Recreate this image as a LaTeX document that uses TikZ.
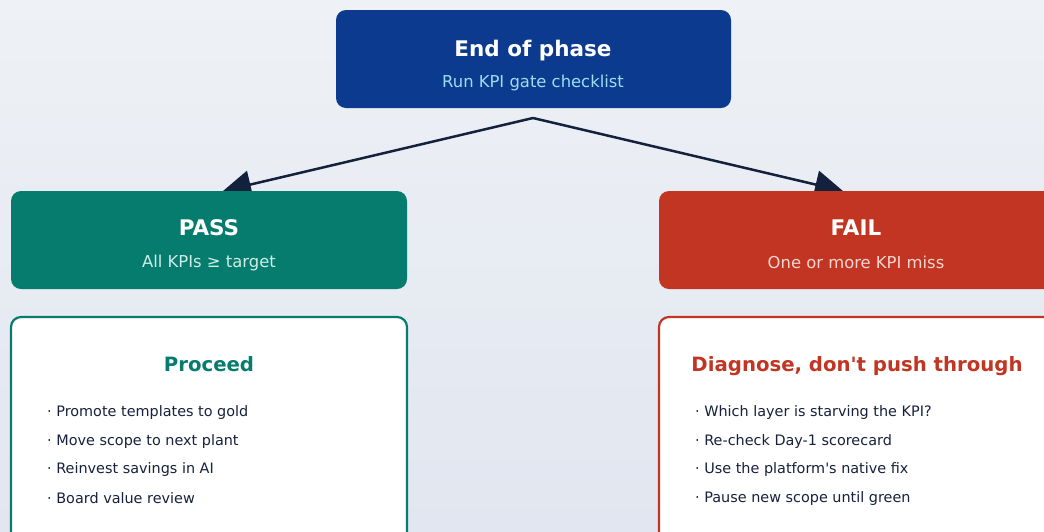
\documentclass[tikz,border=0pt]{standalone}
\usepackage{fontspec}
\newfontfamily\djv{DejaVu Sans}
\usetikzlibrary{arrows.meta}
\definecolor{bgtop}{HTML}{EEF1F5}
\definecolor{bgbot}{HTML}{E1E6F0}
\definecolor{navy}{HTML}{0B3A8F}
\definecolor{tealc}{HTML}{067C6E}
\definecolor{failred}{HTML}{C23523}
\definecolor{ink}{HTML}{14213D}
\definecolor{textink}{HTML}{17213C}
\definecolor{subblue}{HTML}{9FDCF0}
\definecolor{subteal}{HTML}{CDEDE6}
\definecolor{subred}{HTML}{F6D5CF}
\tikzset{
  headbox/.style={rectangle, rounded corners=10pt, minimum width=395pt, minimum height=98pt, inner sep=0pt},
  cardbox/.style={rectangle, rounded corners=10pt, fill=white, line width=2.2pt, minimum width=396pt, minimum height=240pt, inner sep=0pt},
  headtitle/.style={font=\djv\fontsize{21.5}{25}\selectfont\bfseries, text=white, inner sep=0pt},
  headsub/.style={font=\djv\fontsize{16.4}{19}\selectfont, inner sep=0pt},
  cardtitle/.style={font=\djv\fontsize{19.7}{23}\selectfont\bfseries, inner sep=0pt},
  bullet/.style={font=\djv\fontsize{14.4}{17}\selectfont, text=textink, anchor=west, inner sep=0pt},
  link/.style={draw=ink, line width=2.5pt, -{Triangle[length=28pt,width=28pt]}}
}
\begin{document}
\begin{tikzpicture}[x=1pt,y=-1pt]
\useasboundingbox (0,0) rectangle (1044,531);
\clip (0,0) rectangle (1044,531);
\fill[top color=bgtop, bottom color=bgbot] (0,0) rectangle (1044,531);

% connectors
\coordinate (apex) at (533,118);
\coordinate (passin) at (223,191);
\coordinate (failin) at (843,191);
\draw[link] (apex) -- (passin);
\draw[link] (apex) -- (failin);

% top box
\node[headbox, fill=navy] (top) at (533.5,59) {};
\node[headtitle] (toptitle) at (533,51) {End of phase};
\node[headsub, text=subblue] (topsub) at (533,83) {Run KPI gate checklist};

% pass
\node[headbox, fill=tealc, minimum width=396pt] (pass) at (209,240) {};
\node[headtitle] (passtitle) at (209,228) {PASS};
\node[headsub, text=subteal] (passsub) at (209,263) {All KPIs ≥ target};

% fail
\node[headbox, fill=failred, minimum width=396pt] (fail) at (857,240) {};
\node[headtitle] (failtitle) at (856,228) {FAIL};
\node[headsub, text=subred] (failsub) at (856,262) {One or more KPI miss};

% proceed card
\node[cardbox, draw=tealc] (proceed) at (209,437) {};
\node[cardtitle, text=tealc] (proceedtitle) at (209,364) {Proceed};
\node[bullet] (p1) at (47,413) {· Promote templates to gold};
\node[bullet] (p2) at (47,442) {· Move scope to next plant};
\node[bullet] (p3) at (47,470) {· Reinvest savings in AI};
\node[bullet] (p4) at (47,498) {· Board value review};

% diagnose card
\node[cardbox, draw=failred] (diag) at (857,437) {};
\node[cardtitle, text=failred] (diagtitle) at (857,366) {Diagnose, don't push through};
\node[bullet] (d1) at (695,413) {· Which layer is starving the KPI?};
\node[bullet] (d2) at (695,442) {· Re-check Day-1 scorecard};
\node[bullet] (d3) at (695,470) {· Use the platform's native fix};
\node[bullet] (d4) at (695,499) {· Pause new scope until green};
\end{tikzpicture}
\end{document}
